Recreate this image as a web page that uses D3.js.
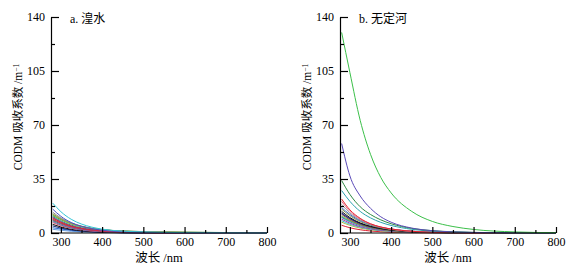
<!DOCTYPE html>
<html lang="zh">
<head>
<meta charset="UTF-8">
<title>CODM 吸收系数</title>
<script src="https://d3js.org/d3.v7.min.js"></script>
<style>
  body { margin: 0; background: #fff; }
  text { font-family: "Liberation Serif", "Noto Sans CJK SC", serif; fill: #000; }
</style>
</head>
<body>
<div id="chart"></div>
<script>
const wavelengths = [280, 300, 325, 350, 375, 400, 450, 500, 550, 600, 700, 800];

// a. 湟水 spectra (m^-1)
const huangshuiSpectra = [
  [2.4, 1.8, 1.1, 0.7, 0.45, 0.3, 0.1, 0.05, 0, 0, 0, 0],
  [3.4, 2.6, 1.7, 1.1, 0.7, 0.45, 0.15, 0.05, 0, 0, 0, 0],
  [4.6, 3.2, 2.0, 1.3, 0.8, 0.5, 0.2, 0.1, 0.05, 0, 0, 0],
  [5.6, 3.9, 2.4, 1.5, 1.0, 0.6, 0.25, 0.1, 0.05, 0, 0, 0],
  [6.8, 4.7, 3.0, 1.9, 1.2, 0.8, 0.35, 0.15, 0.08, 0.04, 0, 0],
  [7.5, 5.2, 3.3, 2.1, 1.4, 0.9, 0.4, 0.2, 0.1, 0.05, 0, 0],
  [8.2, 5.9, 3.9, 2.6, 1.8, 1.2, 0.6, 0.35, 0.2, 0.1, 0, 0],
  [8.7, 6.1, 3.9, 2.5, 1.6, 1.1, 0.5, 0.25, 0.1, 0.05, 0, 0],
  [9.2, 6.5, 4.2, 2.8, 1.8, 1.2, 0.6, 0.3, 0.15, 0.1, 0, 0],
  [10.2, 7.2, 4.6, 3.0, 2.0, 1.4, 0.7, 0.35, 0.2, 0.1, 0, 0],
  [10.8, 7.8, 5.1, 3.4, 2.3, 1.6, 0.8, 0.5, 0.3, 0.2, 0.1, 0],
  [11.5, 8.6, 5.9, 4.1, 2.9, 2.1, 1.3, 0.9, 0.7, 0.55, 0.3, 0.15],
  [12.0, 8.9, 6.0, 4.2, 2.9, 2.1, 1.2, 0.8, 0.55, 0.4, 0.2, 0.05],
  [12.5, 9.3, 6.3, 4.4, 3.1, 2.2, 1.3, 0.9, 0.7, 0.5, 0.25, 0.1],
  [13.5, 9.8, 6.5, 4.4, 3.0, 2.1, 1.1, 0.7, 0.45, 0.3, 0.1, 0],
  [9.8, 7.0, 4.5, 3.0, 2.0, 1.3, 0.6, 0.3, 0.15, 0.1, 0, 0],
  [15.5, 10.8, 6.8, 4.3, 2.8, 1.8, 0.8, 0.4, 0.2, 0.1, 0.05, 0],
  [19.4, 13.8, 8.9, 5.8, 3.8, 2.5, 1.2, 0.7, 0.4, 0.25, 0.1, 0]
];
const huangshuiColors = [
  "#6aa0e0", "#2f6fd0", "#1a2a7a", "#111111", "#e8506a", "#4a78b8",
  "#2f6f3a", "#c03ca0", "#a0522d", "#7a3fb0", "#2a8f8a", "#3a9a48",
  "#9bbb3c", "#8e9a52", "#8c8c8c", "#e0203c", "#4a4fc4", "#33c6d6"
];

// b. 无定河 spectra (m^-1)
const wudingSpectra = [
  [5, 3.4, 2.1, 1.3, 0.8, 0.5, 0.2, 0.1, 0, 0, 0, 0],
  [7, 5, 3.2, 2.1, 1.4, 0.9, 0.4, 0.2, 0.1, 0, 0, 0],
  [8, 5.7, 3.7, 2.4, 1.6, 1.1, 0.5, 0.2, 0.1, 0.05, 0, 0],
  [9, 6.4, 4.1, 2.7, 1.8, 1.2, 0.5, 0.25, 0.1, 0.05, 0, 0],
  [10, 7.2, 4.7, 3.1, 2.1, 1.4, 0.6, 0.3, 0.15, 0.05, 0, 0],
  [10.5, 7.8, 5.3, 3.7, 2.6, 1.8, 0.9, 0.45, 0.2, 0.1, 0, 0],
  [11, 8, 5.3, 3.6, 2.5, 1.7, 0.8, 0.4, 0.2, 0.1, 0, 0],
  [12, 8.5, 5.5, 3.6, 2.4, 1.6, 0.7, 0.3, 0.15, 0.05, 0, 0],
  [12.5, 9.3, 6.3, 4.4, 3.1, 2.2, 1.1, 0.5, 0.25, 0.1, 0, 0],
  [13, 9.3, 6.1, 4.1, 2.8, 1.9, 0.9, 0.4, 0.2, 0.1, 0, 0],
  [14, 10, 6.5, 4.3, 2.9, 2, 0.9, 0.4, 0.2, 0.1, 0, 0],
  [15.5, 11.2, 7.4, 5, 3.4, 2.3, 1.1, 0.5, 0.25, 0.1, 0, 0],
  [16.5, 12, 8, 5.4, 3.7, 2.6, 1.2, 0.6, 0.3, 0.15, 0, 0],
  [18.5, 13, 8.5, 5.6, 3.7, 2.5, 1.1, 0.5, 0.25, 0.1, 0, 0],
  [20.5, 14, 9, 5.8, 3.8, 2.5, 1.1, 0.5, 0.2, 0.1, 0, 0],
  [22, 15, 9.5, 6, 3.9, 2.6, 1.1, 0.5, 0.2, 0.1, 0, 0],
  [27.5, 20.5, 14, 9.8, 6.9, 4.9, 2.4, 1.2, 0.6, 0.3, 0.1, 0],
  [34, 25, 17, 12, 8.5, 6, 3, 1.5, 0.8, 0.4, 0.1, 0],
  [58, 37, 24, 16, 10.5, 7, 3.2, 1.5, 0.7, 0.35, 0.1, 0],
  [130, 104, 73, 51, 36, 26, 14, 7.5, 4.2, 2.3, 0.7, 0.2]
];
const wudingColors = [
  "#e02030", "#a8b840", "#3cc0d0", "#b040a0", "#4a80c0", "#2a8a8a",
  "#6cc86a", "#9a5a30", "#4a2a90", "#1c2a80", "#111111", "#8a9a4a",
  "#3a6ac8", "#9a9a9a", "#e06a8a", "#e8202a", "#2aa3b0", "#2e8a44",
  "#5a4ab8", "#3cc04a"
];

const xTicks = [300, 400, 500, 600, 700, 800];
const yTicks = [0, 35, 70, 105, 140];

const panels = [
  {title: "a. 湟水", spectra: huangshuiSpectra, colors: huangshuiColors, left: 51},
  {title: "b. 无定河", spectra: wudingSpectra, colors: wudingColors, left: 340}
];

const W = 574, H = 275;
const plotW = 216, plotTop = 17, plotBottom = 233;

const svg = d3.select("#chart").append("svg")
  .attr("width", W).attr("height", H);

panels.forEach(p => {
  const g = svg.append("g").attr("transform", `translate(${p.left},0)`);

  const x = d3.scaleLinear().domain([276, 800]).range([0, plotW]);
  const y = d3.scaleLinear().domain([0, 140]).range([plotBottom, plotTop]);

  const line = d3.line()
    .x((d, i) => x(wavelengths[i]))
    .y(d => y(d))
    .curve(d3.curveMonotoneX);

  g.selectAll("path.spec")
    .data(p.spectra)
    .join("path")
    .attr("class", "spec")
    .attr("d", line)
    .attr("fill", "none")
    .attr("stroke", (d, i) => p.colors[i])
    .attr("stroke-width", 1);

  // minor ticks
  g.append("g")
    .attr("transform", `translate(0,${plotBottom})`)
    .call(d3.axisTop(x).tickValues([350, 450, 550, 650, 750]).tickSize(3).tickFormat(""))
    .call(a => a.select(".domain").remove());
  g.append("g")
    .call(d3.axisRight(y).tickValues([17.5, 52.5, 87.5, 122.5]).tickSize(4).tickFormat(""))
    .call(a => a.select(".domain").remove());

  // major ticks (inward) and labels
  const xa = g.append("g")
    .attr("transform", `translate(0,${plotBottom})`)
    .call(d3.axisBottom(x).tickValues(xTicks).tickSizeInner(-6).tickSizeOuter(0).tickPadding(3));
  xa.select(".domain").attr("d", `M${x(276)},0H${x(800)}`);
  xa.selectAll("text").attr("font-size", 12).attr("dy", "0.85em");

  const ya = g.append("g")
    .call(d3.axisLeft(y).tickValues(yTicks).tickSizeInner(-8).tickSizeOuter(0).tickPadding(6));
  ya.selectAll("text").attr("font-size", 12);

  g.selectAll(".domain, .tick line").attr("stroke", "#000").attr("stroke-width", 1.2);

  g.append("text")
    .attr("x", 19).attr("y", 23)
    .attr("font-size", 12)
    .text(p.title);

  g.append("text")
    .attr("x", plotW / 2).attr("y", 262)
    .attr("text-anchor", "middle")
    .attr("font-size", 12.5)
    .text("波长 /nm");

  const yl = g.append("text")
    .attr("transform", `translate(-29,117) rotate(-90)`)
    .attr("text-anchor", "middle")
    .attr("font-size", 11.5);
  yl.append("tspan").text("CODM 吸收系数 /m");
  yl.append("tspan").attr("dy", "-0.45em").attr("font-size", 7.5).text("−1");
});
</script>
</body>
</html>
